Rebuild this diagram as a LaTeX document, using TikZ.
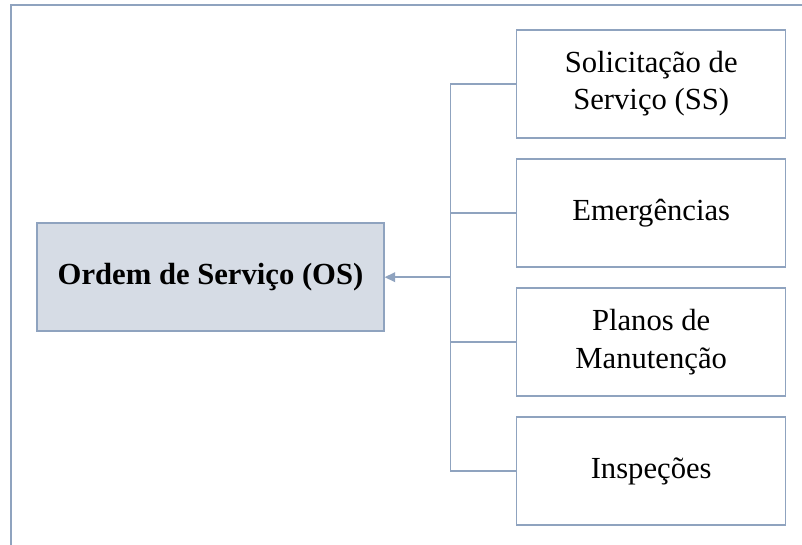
\documentclass[tikz,border=0pt]{standalone}
\usepackage{fontspec}
\setmainfont{Liberation Serif}
\usetikzlibrary{arrows.meta,positioning}

\definecolor{linegray}{HTML}{8FA3BF}
\definecolor{boxfill}{HTML}{D6DCE5}

\tikzset{
  srcbox/.style={draw=linegray, line width=1pt, fill=white, minimum width=6.725cm,
    minimum height=2.7cm, align=center, inner sep=2pt,
    font=\fontsize{21.8}{26.5}\selectfont},
  osbox/.style={srcbox, fill=boxfill, minimum width=8.675cm,
    font=\fontsize{21.8}{26.5}\selectfont\bfseries},
  link/.style={draw=linegray, line width=1pt}
}

\begin{document}
\begin{tikzpicture}[node distance=0.49cm, >={Triangle[length=7.5pt,width=7pt]}]
  \useasboundingbox (0,0) rectangle (20.05,13.625);
  % frame
  \draw[linegray, line width=1.4pt] (0.275,0) -- (0.275,13.5) -- (20.05,13.5);

  \node[osbox] (os) at (5.2625,6.695) {Ordem de Serviço (OS)};

  \node[srcbox] (ss) at (16.28,11.525) {Solicitação de\\Serviço (SS)};
  \node[srcbox, below=of ss] (em) {Emergências};
  \node[srcbox, below=of em] (pm) {Planos de\\Manutenção};
  \node[srcbox, below=of pm] (insp) {Inspeções};

  \coordinate[right=1.65cm of os.east] (hub);

  \foreach \b in {ss,em,pm,insp}
    \draw[link] (\b.west) -| (hub);
  \draw[link,->,color=linegray] (hub) -- (os.east);
\end{tikzpicture}
\end{document}
